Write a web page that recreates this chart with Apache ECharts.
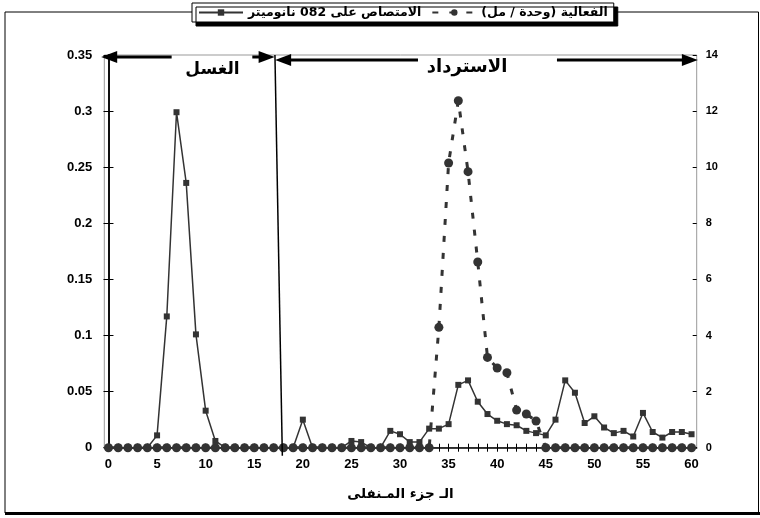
<!DOCTYPE html>
<html>
<head>
<meta charset="utf-8">
<script src="https://cdn.jsdelivr.net/npm/echarts@6/dist/echarts.min.js"></script>
<style>
  html, body { margin: 0; padding: 0; background: #fff; }
  #chart { width: 760px; height: 518px; }
</style>
</head>
<body>
<div id="chart"></div>
<script>
// Fraction numbers collected from the column
const fractions = [0, 1, 2, 3, 4, 5, 6, 7, 8, 9, 10, 11, 12, 13, 14, 15, 16, 17, 18, 19, 20,
  21, 22, 23, 24, 25, 26, 27, 28, 29, 30, 31, 32, 33, 34, 35, 36, 37, 38, 39, 40,
  41, 42, 43, 44, 45, 46, 47, 48, 49, 50, 51, 52, 53, 54, 55, 56, 57, 58, 59, 60];

// Absorbance at 280 nm (left axis)
const absorbance = [0, 0, 0, 0, 0, 0.011, 0.117, 0.299, 0.236, 0.101, 0.033, 0.006, 0, 0, 0, 0, 0, 0, 0, 0,
  0.025, 0, 0, 0, 0, 0.006, 0.005, 0, 0, 0.015, 0.012, 0.005, 0.005, 0.017, 0.017, 0.021, 0.056, 0.060,
  0.041, 0.030, 0.024, 0.021, 0.020, 0.015, 0.013, 0.011, 0.025, 0.060, 0.049, 0.022, 0.028, 0.018,
  0.013, 0.015, 0.010, 0.031, 0.014, 0.009, 0.014, 0.014, 0.012];

// Enzyme activity, units / ml (right axis)
const activity = [0, 0, 0, 0, 0, 0, 0, 0, 0, 0, 0, 0, 0, 0, 0, 0, 0, 0, 0, 0,
  0, 0, 0, 0, 0, 0, 0, 0, 0, 0, 0, 0, 0, 0, 4.29, 10.15, 12.37, 9.84, 6.62, 3.22, 2.84,
  2.67, 1.34, 1.20, 0.95, 0, 0, 0, 0, 0, 0, 0, 0, 0, 0, 0, 0, 0, 0, 0, 0];

const xLabelTicks = [0, 5, 10, 15, 20, 25, 30, 35, 40, 45, 50, 55, 60];
const leftTicks = [0, 0.05, 0.1, 0.15, 0.2, 0.25, 0.3, 0.35];
const rightTicks = [0, 2, 4, 6, 8, 10, 12, 14];

const absorbanceName = 'الامتصاص على 082 نانوميتر';
const activityName = '\u200Fالفعالية (وحدة / مل)\u200F';
const xTitle = 'الـ جزء المـنفلى';
const washLabel = 'الغسل';
const elutionLabel = 'الاسترداد';

const LATIN = '"Liberation Sans", Arial, "DejaVu Sans", sans-serif';
const ARABIC = '"DejaVu Sans", "Liberation Sans", sans-serif';
const INK = '#000';
const MARK = '#333';

const chart = echarts.init(document.getElementById('chart'), null, { renderer: 'canvas' });

const tickFont = { color: INK, fontFamily: LATIN, fontWeight: 'bold', fontSize: 13 };

chart.setOption({
  animation: false,
  backgroundColor: '#fff',
  legend: {
    left: 192, top: 3,
    padding: [3, 6, 3, 6],
    itemGap: 10, itemWidth: 44, itemHeight: 8,
    backgroundColor: '#fff',
    borderColor: INK, borderWidth: 1,
    shadowColor: INK, shadowBlur: 0, shadowOffsetX: 4, shadowOffsetY: 4,
    textStyle: { color: INK, fontFamily: ARABIC, fontWeight: 'bold', fontSize: 12.5 },
    data: [absorbanceName, activityName]
  },
  grid: {
    left: 104.3, right: 63.3, top: 55, bottom: 70.3,
    show: true, borderColor: '#999', borderWidth: 1, backgroundColor: 'transparent'
  },
  xAxis: [
    {
      type: 'value', min: -0.43, max: 60.53, position: 'bottom',
      axisLine: { show: true, onZero: false, lineStyle: { color: INK, width: 1.5 } },
      axisTick: { show: true, length: 4, customValues: fractions, lineStyle: { color: INK, width: 1 } },
      axisLabel: Object.assign({ customValues: xLabelTicks, margin: 10 }, tickFont),
      splitLine: { show: false },
      name: xTitle, nameLocation: 'middle', nameGap: 40,
      nameTextStyle: { color: INK, fontFamily: ARABIC, fontWeight: 'bold', fontSize: 13.5 }
    },
    {
      type: 'value', min: -0.43, max: 60.53, position: 'bottom',
      axisLine: { show: false, onZero: false },
      axisTick: { show: true, inside: true, length: 4, customValues: fractions, lineStyle: { color: INK, width: 1 } },
      axisLabel: { show: false },
      splitLine: { show: false }
    }
  ],
  yAxis: [
    {
      type: 'value', min: leftTicks[0], max: leftTicks[leftTicks.length - 1], interval: 0.05, position: 'left',
      axisLine: { show: true, lineStyle: { color: INK, width: 1.5 } },
      axisTick: { show: true, length: 5, lineStyle: { color: INK } },
      axisLabel: Object.assign({ margin: 12 }, tickFont),
      splitLine: { show: false }
    },
    {
      type: 'value', min: rightTicks[0], max: rightTicks[rightTicks.length - 1], interval: 2, position: 'right',
      axisLine: { show: true, lineStyle: { color: INK, width: 1.5 } },
      axisTick: { show: true, length: 5, lineStyle: { color: INK } },
      axisLabel: Object.assign({ margin: 9 }, tickFont, { fontSize: 11 }),
      splitLine: { show: false }
    },
    {
      type: 'value', min: leftTicks[0], max: leftTicks[leftTicks.length - 1], interval: 0.05, position: 'left',
      axisLine: { show: false },
      axisTick: { show: true, inside: true, length: 4, lineStyle: { color: INK } },
      axisLabel: { show: false }, splitLine: { show: false }
    },
    {
      type: 'value', min: rightTicks[0], max: rightTicks[rightTicks.length - 1], interval: 2, position: 'right',
      axisLine: { show: false },
      axisTick: { show: true, inside: true, length: 4, lineStyle: { color: INK } },
      axisLabel: { show: false }, splitLine: { show: false }
    }
  ],
  series: [
    {
      name: absorbanceName, type: 'line', xAxisIndex: 0, yAxisIndex: 0,
      data: fractions.map((f, i) => [f, absorbance[i]]),
      symbol: 'rect', symbolSize: 6,
      lineStyle: { color: MARK, width: 1.5 },
      itemStyle: { color: MARK },
      z: 3
    },
    {
      name: activityName, type: 'line', xAxisIndex: 0, yAxisIndex: 1,
      data: fractions.map((f, i) => [f, activity[i]]),
      symbol: 'circle', symbolSize: 9,
      lineStyle: { color: MARK, width: 3, type: [6, 11] },
      itemStyle: { color: MARK },
      z: 4
    }
  ]
});

// Annotations: wash / elution arrows and the divider between the two phases
function px(x, y) { return chart.convertToPixel({ xAxisIndex: 0, yAxisIndex: 0 }, [x, y]); }

function arrowHead(tipX, y, dir) {
  const len = 16, half = 6;
  return {
    type: 'polygon',
    shape: { points: [[tipX, y], [tipX - dir * len, y - half], [tipX - dir * len, y + half]] },
    style: { fill: INK },
    z: 20
  };
}
function seg(x1, x2, y) {
  return { type: 'line', shape: { x1: x1, y1: y, x2: x2, y2: y }, style: { stroke: INK, lineWidth: 3 }, z: 20 };
}

const plotTop = px(0, 0.35)[1];
const washY = plotTop + 2, elutY = plotTop + 5;

const washL = px(-0.75, 0)[0], washR = px(17.1, 0)[0];
const washGapL = px(6.5, 0)[0], washGapR = px(14.8, 0)[0];
const elutL = px(17.15, 0)[0], elutR = px(60.65, 0)[0];
const elutGapL = px(31.85, 0)[0], elutGapR = px(46.15, 0)[0];
const divTop = px(17.13, 0.35), divBot = px(17.87, 0);

chart.setOption({
  graphic: [
    // outer frame of the chart area
    { type: 'rect', shape: { x: 5, y: 12, width: 753.5, height: 501 }, style: { fill: 'none', stroke: INK, lineWidth: 1 }, z: -1 },
    { type: 'line', shape: { x1: 5, y1: 513.5, x2: 760, y2: 513.5 }, style: { stroke: INK, lineWidth: 3 }, z: -1 },
    // divider line
    { type: 'line', shape: { x1: divTop[0], y1: divTop[1], x2: divBot[0] + 0.2, y2: divBot[1] + 8 }, style: { stroke: INK, lineWidth: 1.5 }, z: 20 },
    // wash arrow
    seg(washL + 14, washGapL, washY), seg(washGapR, washR - 14, washY),
    arrowHead(washL, washY, -1), arrowHead(washR, washY, 1),
    {
      type: 'text', x: px(10.7, 0)[0], y: washY + 13,
      style: { text: washLabel, fill: INK, font: 'bold 17px ' + ARABIC, align: 'center', verticalAlign: 'middle' }, z: 21
    },
    // elution arrow
    seg(elutL + 14, elutGapL, elutY), seg(elutGapR, elutR - 14, elutY),
    arrowHead(elutL, elutY, -1), arrowHead(elutR, elutY, 1),
    {
      type: 'text', x: px(36.9, 0)[0], y: elutY + 7,
      style: { text: elutionLabel, fill: INK, font: 'bold 18px ' + ARABIC, align: 'center', verticalAlign: 'middle' }, z: 21
    }
  ]
});
</script>
</body>
</html>
